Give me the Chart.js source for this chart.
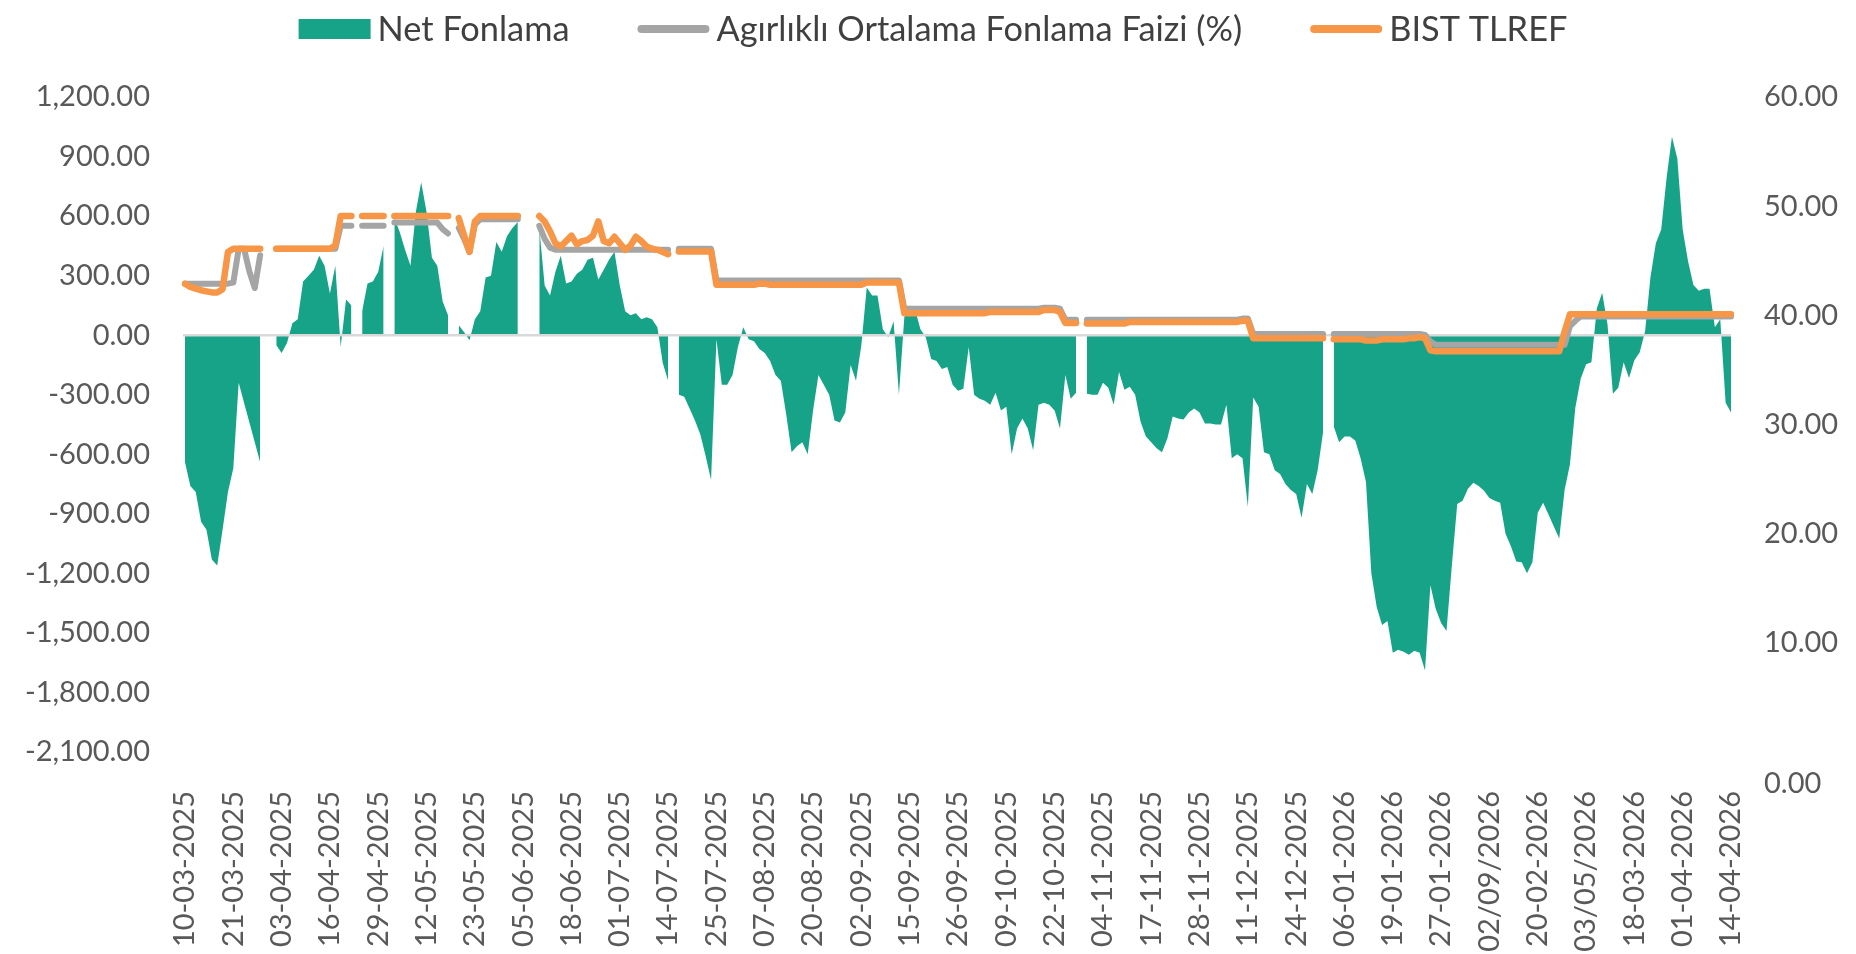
<!DOCTYPE html>
<html>
<head>
<meta charset="utf-8">
<script src="https://cdn.jsdelivr.net/npm/chart.js@4.4.1/dist/chart.umd.min.js"></script>
<style>
  html, body { margin: 0; padding: 0; background: #ffffff; }
  #wrap { width: 1856px; height: 954px; position: relative; }
</style>
</head>
<body>
<div id="wrap"><canvas id="c" width="1856" height="954"></canvas></div>
<script>
// ---------- DATA ----------
const seriesNames = ['Net Fonlama', 'Agırlıklı Ortalama Fonlama Faizi (%)', 'BIST TLREF'];

const tickLabels = ['10-03-2025','21-03-2025','03-04-2025','16-04-2025','29-04-2025','12-05-2025','23-05-2025',
  '05-06-2025','18-06-2025','01-07-2025','14-07-2025','25-07-2025','07-08-2025','20-08-2025','02-09-2025',
  '15-09-2025','26-09-2025','09-10-2025','22-10-2025','04-11-2025','17-11-2025','28-11-2025','11-12-2025',
  '24-12-2025','06-01-2026','19-01-2026','27-01-2026','02/09/2026','20-02-2026','03/05/2026','18-03-2026',
  '01-04-2026','14-04-2026'];

// Net Fonlama (left axis) – one value per business day, null = holiday
const netFonlama = [
  -640,-760,-790,-940,-980,-1130,-1160,-980,-790,-670,
  -240,-340,-440,-540,-640,null,null,-50,-90,-40,
  60,80,270,300,330,400,350,210,350,-60,
  180,150,null,120,260,270,320,450,null,590,
  520,430,350,620,770,620,390,350,170,100,
  null,50,15,-25,80,120,290,300,470,420,
  500,540,570,null,null,null,540,250,200,320,
  400,260,270,310,330,380,390,280,330,380,
  420,250,120,100,110,80,90,80,40,-140,
  -230,null,-300,-310,-370,-430,-500,-610,-730,-20,
  -250,-250,-200,-60,40,-20,-30,-70,-90,-130,
  -200,-230,-400,-590,-560,-540,-600,-380,-200,-250,
  -300,-430,-440,-390,-150,-230,-50,240,200,200,
  30,-10,70,-300,90,150,130,30,-10,-120,
  -130,-170,-160,-250,-280,-270,-60,-300,-320,-330,
  -350,-290,-380,-360,-600,-470,-420,-470,-580,-350,
  -340,-350,-380,-470,-200,-320,-290,null,-295,-300,
  -300,-240,-265,-350,-185,-275,-260,-300,-435,-510,
  -540,-570,-590,-520,-410,-420,-425,-390,-370,-390,
  -445,-445,-450,-450,-350,-620,-600,-620,-865,-314,
  -360,-590,-600,-680,-700,-750,-780,-800,-920,-750,
  -800,-680,-490,null,-460,-540,-510,-510,-530,-620,
  -740,-1200,-1370,-1460,-1440,-1600,-1585,-1595,-1610,-1590,
  -1600,-1690,-1260,-1380,-1450,-1490,-1160,-850,-834,-774,
  -744,-760,-784,-820,-834,-844,-1000,-1064,-1140,-1144,
  -1200,-1144,-894,-844,-904,-964,-1024,-780,-650,-365,
  -220,-146,-136,134,214,54,-295,-265,-136,-216,
  -126,-86,20,293,463,533,792,1000,890,533,
  373,253,224,234,234,40,80,-340,-390
];

// Ağırlıklı Ortalama Fonlama Faizi (%) – right axis
const aofm = [
  42.9,42.9,42.9,42.9,42.9,42.9,42.9,42.9,42.9,43.0,
  46.1,46.1,44.0,42.5,45.5,null,null,46.1,46.1,46.1,
  46.1,46.1,46.1,46.1,46.1,46.1,46.1,46.1,46.1,48.2,
  48.2,48.2,null,48.2,48.2,48.2,48.2,48.2,null,48.5,
  48.5,48.5,48.5,48.5,48.5,48.5,48.5,48.5,47.9,47.5,
  null,48.0,47.0,45.8,48.3,48.8,48.8,48.8,48.8,48.8,
  48.8,48.8,48.8,null,null,null,48.2,47.0,46.2,46.0,
  46.0,46.0,46.0,46.0,46.0,46.0,46.0,46.0,46.0,46.0,
  46.0,46.0,46.0,46.0,46.0,46.0,46.0,46.0,46.0,46.0,
  46.0,null,46.1,46.1,46.1,46.1,46.1,46.1,46.1,43.2,
  43.2,43.2,43.2,43.2,43.2,43.2,43.2,43.2,43.2,43.2,
  43.2,43.2,43.2,43.2,43.2,43.2,43.2,43.2,43.2,43.2,
  43.2,43.2,43.2,43.2,43.2,43.2,43.2,43.2,43.2,43.2,
  43.2,43.2,43.2,43.2,40.6,40.6,40.6,40.6,40.6,40.6,
  40.6,40.6,40.6,40.6,40.6,40.6,40.6,40.6,40.6,40.6,
  40.6,40.6,40.6,40.6,40.6,40.6,40.6,40.6,40.6,40.6,
  40.7,40.7,40.7,40.6,39.6,39.6,39.6,null,39.6,39.6,
  39.6,39.6,39.6,39.6,39.6,39.6,39.6,39.6,39.6,39.6,
  39.6,39.6,39.6,39.6,39.6,39.6,39.6,39.6,39.6,39.6,
  39.6,39.6,39.6,39.6,39.6,39.6,39.6,39.7,39.7,38.3,
  38.3,38.3,38.3,38.3,38.3,38.3,38.3,38.3,38.3,38.3,
  38.3,38.3,38.3,null,38.3,38.3,38.3,38.3,38.3,38.3,
  38.3,38.3,38.3,38.3,38.3,38.3,38.3,38.3,38.3,38.3,
  38.3,38.2,37.6,37.3,37.3,37.3,37.3,37.3,37.3,37.3,
  37.3,37.3,37.3,37.3,37.3,37.3,37.3,37.3,37.3,37.3,
  37.3,37.3,37.3,37.3,37.3,37.3,37.3,37.3,39.0,39.5,
  39.9,39.9,39.9,39.9,39.9,39.9,39.9,39.9,39.9,39.9,
  39.9,39.9,39.9,39.9,39.9,39.9,39.9,39.9,39.9,39.9,
  39.9,39.9,39.9,39.9,39.9,39.9,39.9,39.9,39.9
];

// BIST TLREF – right axis
const tlref = [
  42.9,42.6,42.45,42.3,42.2,42.1,42.1,42.4,45.8,46.1,
  46.1,46.1,46.1,46.1,46.1,null,null,46.1,46.1,46.1,
  46.1,46.1,46.1,46.1,46.1,46.1,46.1,46.1,46.4,49.1,
  49.1,49.1,null,49.1,49.1,49.1,49.1,49.1,null,49.1,
  49.1,49.1,49.1,49.1,49.1,49.1,49.1,49.1,49.1,49.1,
  null,48.9,47.3,45.8,48.6,49.1,49.1,49.1,49.1,49.1,
  49.1,49.1,49.1,null,null,null,49.1,48.6,47.7,46.6,
  46.3,46.8,47.3,46.5,46.8,46.9,47.3,48.6,46.8,46.6,
  47.2,46.6,46.0,46.4,47.2,46.8,46.3,46.1,46.0,45.8,
  45.6,null,45.85,45.85,45.85,45.85,45.85,45.85,45.85,42.8,
  42.8,42.8,42.8,42.8,42.8,42.8,42.8,42.9,42.9,42.8,
  42.8,42.8,42.8,42.8,42.8,42.8,42.8,42.8,42.8,42.8,
  42.8,42.8,42.8,42.8,42.8,42.8,42.8,43.0,43.0,43.0,
  43.0,43.0,43.0,43.0,40.2,40.2,40.2,40.2,40.2,40.2,
  40.2,40.2,40.2,40.2,40.2,40.2,40.2,40.2,40.2,40.2,
  40.3,40.3,40.3,40.3,40.3,40.3,40.3,40.3,40.3,40.3,
  40.5,40.5,40.5,40.3,39.3,39.3,39.3,null,39.25,39.25,
  39.25,39.25,39.25,39.25,39.25,39.25,39.4,39.4,39.4,39.4,
  39.4,39.4,39.4,39.4,39.4,39.4,39.4,39.4,39.4,39.4,
  39.4,39.4,39.4,39.4,39.4,39.4,39.4,39.5,39.5,37.9,
  37.9,37.9,37.9,37.9,37.9,37.9,37.9,37.9,37.9,37.9,
  37.9,37.9,37.9,null,37.8,37.8,37.8,37.8,37.8,37.8,
  37.7,37.7,37.7,37.8,37.8,37.8,37.8,37.8,37.9,37.9,
  38.0,37.9,36.8,36.7,36.7,36.7,36.7,36.7,36.7,36.7,
  36.7,36.7,36.7,36.7,36.7,36.7,36.7,36.7,36.7,36.7,
  36.7,36.7,36.7,36.7,36.7,36.7,36.7,38.5,40.1,40.1,
  40.1,40.1,40.1,40.1,40.1,40.1,40.1,40.1,40.1,40.1,
  40.1,40.1,40.1,40.1,40.1,40.1,40.1,40.1,40.1,40.1,
  40.1,40.1,40.1,40.1,40.1,40.1,40.1,40.1,40.1
];

const leftAxis = { min: -2100, max: 1200, step: 300 };
const rightAxis = { min: 0, max: 60, step: 10 };
const labelEvery = 9;

// ---------- STYLE ----------
const AREA_COLOR = '#17A388';
const AOFM_COLOR = '#A5A5A5';
const TLREF_COLOR = '#F79646';
const TEXT_COLOR = '#595959';
const FONT_FAMILY = 'Lato, "Open Sans", sans-serif';

const categories = netFonlama.map((_, i) => (i % labelEvery === 0 ? tickLabels[i / labelEvery] : ''));

const fmtLeft = v => Number(v).toLocaleString('en-US', { minimumFractionDigits: 2, maximumFractionDigits: 2 });

const zeroLinePlugin = {
  id: 'zeroLine',
  afterDatasetDraw(chart, args) {
    if (args.index !== 0) return;
    const y = chart.scales.y.getPixelForValue(0);
    const ctx = chart.ctx;
    ctx.save();
    ctx.strokeStyle = '#D9D9D9';
    ctx.lineWidth = 2.5;
    ctx.beginPath();
    ctx.moveTo(chart.chartArea.left - 2, y);
    ctx.lineTo(chart.chartArea.right, y);
    ctx.stroke();
    ctx.restore();
  }
};

const legendPlugin = {
  id: 'topLegend',
  afterDraw(chart) {
    const ctx = chart.ctx;
    const items = [
      { text: seriesNames[0], kind: 'box', color: AREA_COLOR },
      { text: seriesNames[1], kind: 'line', color: AOFM_COLOR },
      { text: seriesNames[2], kind: 'line', color: TLREF_COLOR }
    ];
    const markerW = 72, markerGap = 7, itemGap = 68, cy = 29, centerX = 933;
    ctx.save();
    let size = 30;
    ctx.font = size + 'px ' + FONT_FAMILY;
    const raw = items.reduce((s, it) => s + ctx.measureText(it.text).width, 0);
    size = size * 896 / raw;
    ctx.font = size + 'px ' + FONT_FAMILY;
    const widths = items.map(it => ctx.measureText(it.text).width);
    const total = items.length * (markerW + markerGap) + widths.reduce((a, b) => a + b, 0) + itemGap * (items.length - 1);
    let x = centerX - total / 2;
    ctx.textBaseline = 'middle';
    ctx.textAlign = 'left';
    items.forEach((it, k) => {
      if (it.kind === 'box') {
        ctx.fillStyle = it.color;
        ctx.fillRect(x, cy - 10, markerW, 20);
      } else {
        ctx.strokeStyle = it.color;
        ctx.lineWidth = 8;
        ctx.lineCap = 'round';
        ctx.beginPath();
        ctx.moveTo(x + 4, cy);
        ctx.lineTo(x + markerW - 4, cy);
        ctx.stroke();
      }
      ctx.fillStyle = '#404040';
      ctx.fillText(it.text, x + markerW + markerGap, cy + 1);
      x += markerW + markerGap + widths[k] + itemGap;
    });
    ctx.restore();
  }
};

const axisFont = { family: FONT_FAMILY, size: 29 };

new Chart(document.getElementById('c'), {
  type: 'line',
  data: {
    labels: categories,
    datasets: [
      { label: seriesNames[0], data: netFonlama, yAxisID: 'y', fill: 'origin',
        backgroundColor: AREA_COLOR, borderWidth: 0, pointRadius: 0, tension: 0, order: 3, spanGaps: false },
      { label: seriesNames[1], data: aofm, yAxisID: 'y2', fill: false, borderColor: AOFM_COLOR,
        borderWidth: 6, pointRadius: 0, tension: 0, order: 2, borderCapStyle: 'round', borderJoinStyle: 'round' },
      { label: seriesNames[2], data: tlref, yAxisID: 'y2', fill: false, borderColor: TLREF_COLOR,
        borderWidth: 6.5, pointRadius: 0, tension: 0, order: 1, borderCapStyle: 'round', borderJoinStyle: 'round' }
    ]
  },
  options: {
    responsive: false,
    animation: false,
    devicePixelRatio: 1,
    layout: { padding: { top: 97, left: 0, right: 0, bottom: 0 } },
    plugins: { legend: { display: false }, tooltip: { enabled: false } },
    scales: {
      x: {
        type: 'category',
        offset: false,
        grid: { display: false, drawTicks: false },
        border: { display: false },
        ticks: {
          autoSkip: false, minRotation: 90, maxRotation: 90, padding: 39,
          color: TEXT_COLOR, font: axisFont,
          callback: (v, i) => (categories[i] ? categories[i] : null)
        },
        afterFit: s => { s.height = 202; }
      },
      y: {
        position: 'left',
        min: leftAxis.min, max: leftAxis.max,
        grid: { display: false, drawTicks: false },
        border: { display: false },
        ticks: { stepSize: leftAxis.step, padding: 35, color: TEXT_COLOR, font: axisFont, callback: v => fmtLeft(v) },
        afterFit: s => { s.width = 185; }
      },
      y2: {
        position: 'right',
        min: rightAxis.min, max: rightAxis.max,
        grid: { display: false, drawTicks: false },
        border: { display: false },
        ticks: { stepSize: rightAxis.step, padding: 33, color: TEXT_COLOR,
          font: { family: FONT_FAMILY, size: 29, lineHeight: 1.1 },
          callback: v => (v === 0 ? ['', '', '0.00'] : Number(v).toFixed(2)) },
        afterFit: s => { s.width = 125; }
      }
    }
  },
  plugins: [zeroLinePlugin, legendPlugin]
});
</script>
</body>
</html>
